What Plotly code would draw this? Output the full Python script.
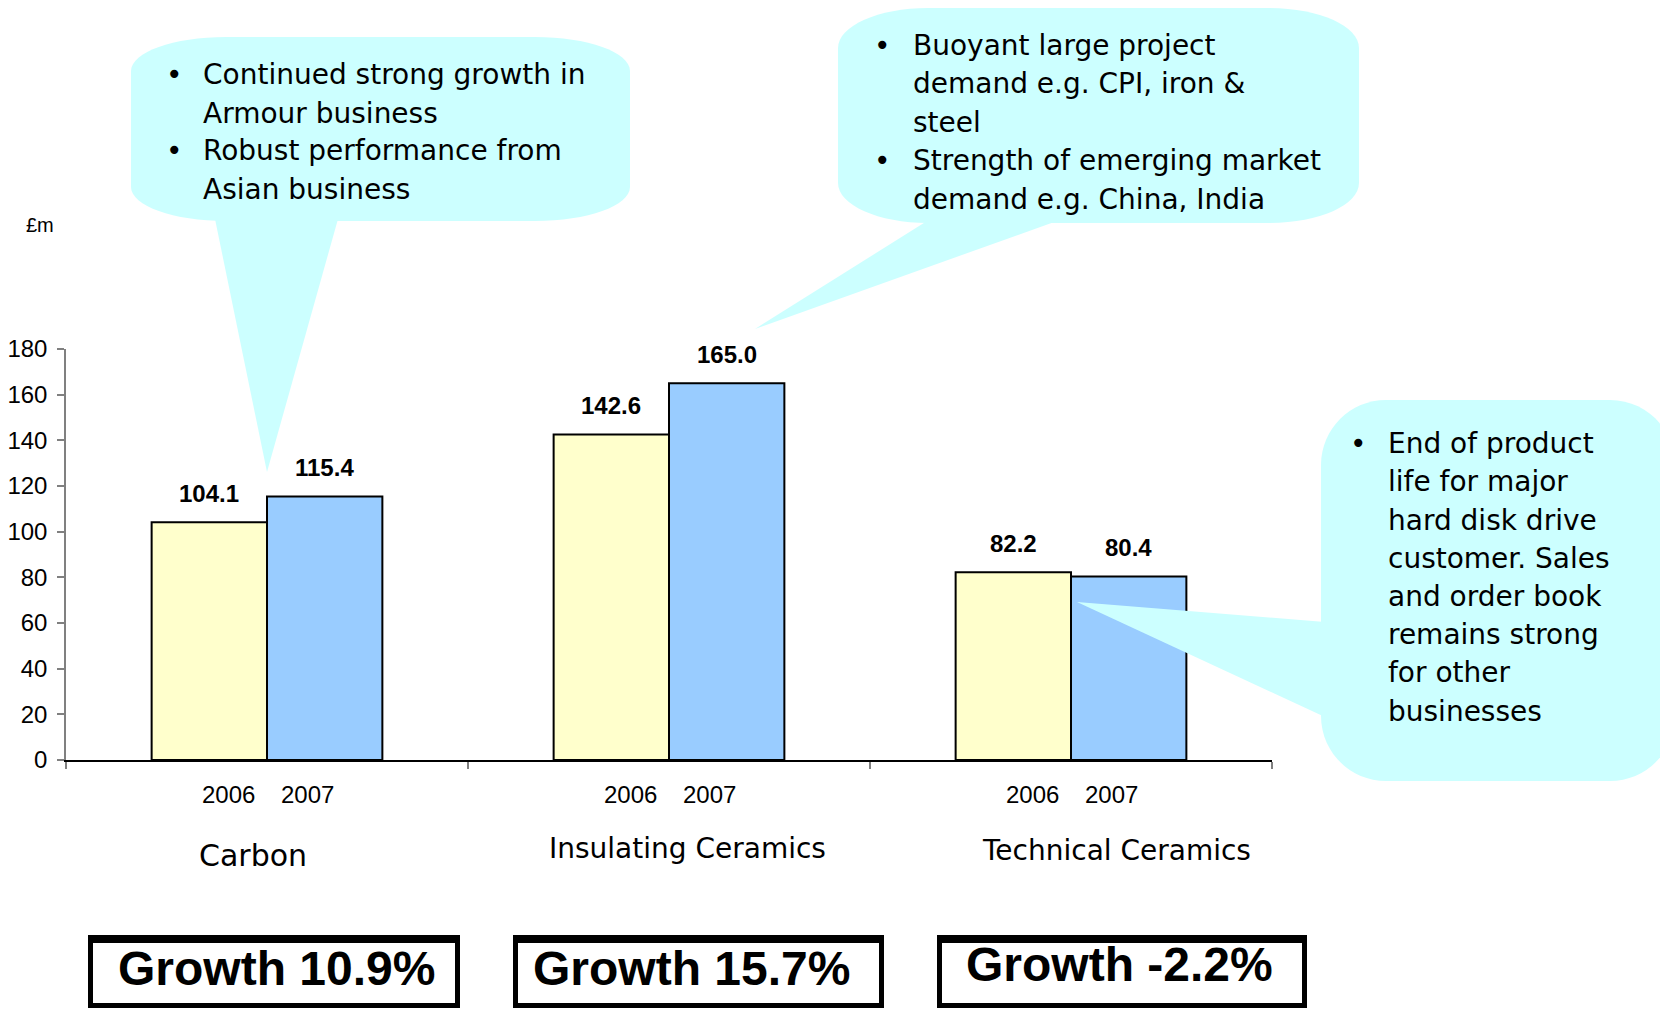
import plotly.graph_objects as go

# ---- data -------------------------------------------------------------
divisions = ["Carbon", "Insulating Ceramics", "Technical Ceramics"]
years = ["2006", "2007"]
sales_2006 = [104.1, 142.6, 82.2]
sales_2007 = [115.4, 165.0, 80.4]
y_ticks = [0, 20, 40, 60, 80, 100, 120, 140, 160, 180]
unit_label = "£m"

notes_carbon = [
    ("•", "Continued strong growth in"),
    ("", "Armour business"),
    ("•", "Robust performance from"),
    ("", "Asian business"),
]
notes_insulating = [
    ("•", "Buoyant large project"),
    ("", "demand e.g. CPI, iron &"),
    ("", "steel"),
    ("•", "Strength of emerging market"),
    ("", "demand e.g. China, India"),
]
notes_technical = [
    ("•", "End of product"),
    ("", "life for major"),
    ("", "hard disk drive"),
    ("", "customer. Sales"),
    ("", "and order book"),
    ("", "remains strong"),
    ("", "for other"),
    ("", "businesses"),
]

# ---- page geometry (pixels) -------------------------------------------
W, H = 1660, 1010
L, R, T, B = 66, 388, 349, 250
PW, PH = W - L - R, H - T - B

def px(x):
    return (x - L) / PW

def py(y):
    return (H - B - y) / PH

COL_2006 = "#FFFFCC"
COL_2007 = "#99CCFF"
BUBBLE = "#CCFFFF"
ARIAL = "Liberation Sans"
TAHOMA = "DejaVu Sans"

fig = go.Figure()
xs = list(range(len(divisions)))
fig.add_trace(go.Bar(x=xs, y=sales_2006, name=years[0], marker=dict(color=COL_2006, line=dict(color="black", width=2)), hoverinfo="skip"))
fig.add_trace(go.Bar(x=xs, y=sales_2007, name=years[1], marker=dict(color=COL_2007, line=dict(color="black", width=2)), hoverinfo="skip"))

bargap = 0.426
half_bar = (1 - bargap) / 4

shapes = []
annotations = []

def rounded_rect(x0, y0, x1, y1, rx, ry):
    k = 0.5523
    pts = [
        f"M {px(x0 + rx)},{py(y0)}",
        f"L {px(x1 - rx)},{py(y0)}",
        f"C {px(x1 - rx + k * rx)},{py(y0)} {px(x1)},{py(y0 + ry - k * ry)} {px(x1)},{py(y0 + ry)}",
        f"L {px(x1)},{py(y1 - ry)}",
        f"C {px(x1)},{py(y1 - ry + k * ry)} {px(x1 - rx + k * rx)},{py(y1)} {px(x1 - rx)},{py(y1)}",
        f"L {px(x0 + rx)},{py(y1)}",
        f"C {px(x0 + rx - k * rx)},{py(y1)} {px(x0)},{py(y1 - ry + k * ry)} {px(x0)},{py(y1 - ry)}",
        f"L {px(x0)},{py(y0 + ry)}",
        f"C {px(x0)},{py(y0 + ry - k * ry)} {px(x0 + rx - k * rx)},{py(y0)} {px(x0 + rx)},{py(y0)}",
        "Z",
    ]
    return dict(type="path", xref="paper", yref="paper", path=" ".join(pts),
                fillcolor=BUBBLE, line=dict(width=0), layer="above")

def pointer(p1, p2, tip):
    path = f"M {px(p1[0])},{py(p1[1])} L {px(p2[0])},{py(p2[1])} L {px(tip[0])},{py(tip[1])} Z"
    return dict(type="path", xref="paper", yref="paper", path=path,
                fillcolor=BUBBLE, line=dict(width=0), layer="above")

def bubble_text(lines, bullet_x, text_x, y_first, step):
    for i, (bullet, txt) in enumerate(lines):
        yy = py(y_first + i * step)
        if bullet:
            annotations.append(dict(xref="paper", yref="paper", x=px(bullet_x), y=yy, text=bullet,
                                    showarrow=False, xanchor="center", yanchor="middle",
                                    font=dict(family=TAHOMA, size=28, color="black")))
        annotations.append(dict(xref="paper", yref="paper", x=px(text_x), y=yy, text=txt,
                                showarrow=False, xanchor="left", yanchor="middle",
                                font=dict(family=TAHOMA, size=28, color="black")))

# callout: Carbon
shapes.append(rounded_rect(131, 37, 630, 221, 95, 34))
shapes.append(pointer((215, 219), (338, 219), (267, 472)))
bubble_text(notes_carbon, 174, 201, 75, 38)

# callout: Insulating Ceramics
shapes.append(rounded_rect(838, 8, 1359, 223, 90, 40))
shapes.append(pointer((927, 221), (1057, 221), (755, 329)))
bubble_text(notes_insulating, 882, 911, 45.5, 38.4)

# callout: Technical Ceramics
shapes.append(rounded_rect(1321, 400, 1675, 781, 65, 65))
shapes.append(pointer((1325, 622), (1325, 717), (1077, 602)))
bubble_text(notes_technical, 1358, 1386, 443.6, 38.2)

# value labels above bars
for i in xs:
    for val, off in ((sales_2006[i], -half_bar), (sales_2007[i], half_bar)):
        annotations.append(dict(x=i + off, y=val, xref="x", yref="y", text=f"{val:.1f}",
                                showarrow=False, yanchor="middle", yshift=29,
                                font=dict(family=ARIAL, size=24, color="black", weight="bold")))

# year labels under each pair and division names
name_shift = [(-14, -95, 30), (18, -88, 28), (45, -90, 28)]
for i in xs:
    for yr, sh in zip(years, (-39, 40)):
        annotations.append(dict(x=i, y=0, xref="x", yref="paper", text=yr, showarrow=False,
                                xshift=sh, yshift=-34, yanchor="middle",
                                font=dict(family=ARIAL, size=24, color="black")))
    dx, dy, fs = name_shift[i]
    annotations.append(dict(x=i, y=0, xref="x", yref="paper", text=divisions[i], showarrow=False,
                            xshift=dx, yshift=dy, yanchor="middle",
                            font=dict(family=TAHOMA, size=fs, color="black")))

# unit label
annotations.append(dict(xref="paper", yref="paper", x=px(40), y=py(225), text=unit_label,
                        showarrow=False, xanchor="center", yanchor="middle",
                        font=dict(family=ARIAL, size=20, color="black")))

# growth boxes
boxes = [(88, 460, 276, 968), (513, 884, 691, 968), (937, 1307, 1119, 964)]
for i, (bx0, bx1, tx, ty) in enumerate(boxes):
    g = (sales_2007[i] / sales_2006[i] - 1) * 100
    shapes.append(dict(type="rect", xref="paper", yref="paper",
                       x0=px(bx0 + 2.5), x1=px(bx1 - 2.5), y0=py(935 + 2.5), y1=py(1008 - 2.5),
                       line=dict(color="black", width=5), fillcolor="white", layer="above"))
    shapes.append(dict(type="line", xref="paper", yref="paper",
                       x0=px(bx0), x1=px(bx1), y0=py(939), y1=py(939),
                       line=dict(color="black", width=8), layer="above"))
    annotations.append(dict(xref="paper", yref="paper", x=px(tx), y=py(ty), text=f"Growth {g:.1f}%",
                            showarrow=False, xanchor="center", yanchor="middle",
                            font=dict(family=ARIAL, size=48, color="black", weight="bold")))

fig.update_layout(
    width=W, height=H, autosize=False,
    margin=dict(l=L, r=R, t=T, b=B, pad=0),
    paper_bgcolor="white", plot_bgcolor="white",
    barmode="group", bargap=bargap, bargroupgap=0,
    showlegend=False,
    shapes=shapes, annotations=annotations,
    xaxis=dict(range=[-0.5, 2.5], showgrid=False, zeroline=False, showticklabels=False,
               automargin=False,
               tickmode="array", tickvals=[-0.5, 0.5, 1.5, 2.5], ticks="outside", ticklen=7,
               tickcolor="#808080", tickwidth=1.5, showline=True, linecolor="black", linewidth=1.5),
    yaxis=dict(range=[0, 180], showgrid=False, zeroline=False, tickmode="array", tickvals=y_ticks,
               automargin=False,
               ticks="outside", ticklen=7, tickcolor="#808080", tickwidth=1.5,
               showline=True, linecolor="#808080", linewidth=1.5,
               tickfont=dict(family=ARIAL, size=24, color="black"), ticklabelstandoff=5),
)

fig.write_html("out.html")
